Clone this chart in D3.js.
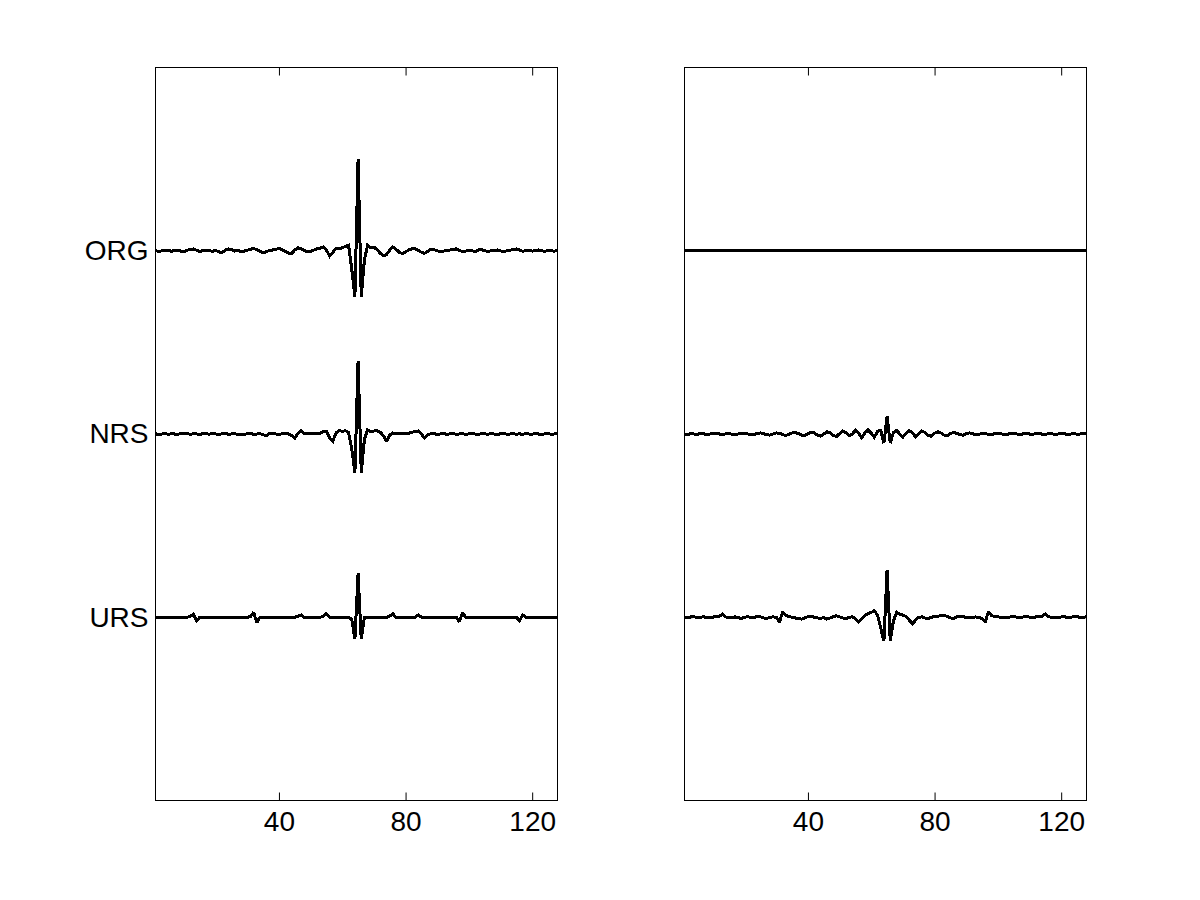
<!DOCTYPE html>
<html>
<head>
<meta charset="utf-8">
<script src="https://cdn.jsdelivr.net/npm/d3@7"></script>
<style>
  html, body { margin: 0; padding: 0; background: #fff; }
  svg { display: block; }
</style>
</head>
<body>
<svg id="chart" width="1200" height="900"></svg>
<script>
// ---- data ----
const xTicks = [40, 80, 120];
const yTickValues = [1, 2, 3];
const yTickLabels = ["URS", "NRS", "ORG"];
const traceNames = ["ORG", "NRS", "URS"];
const traceOffsets = [3, 2, 1];

// left panel
const orgL = [
  0.002,-0.006,0.000,0.004,0.002,-0.003,0.001,0.003,-0.002,-0.005,0.002,0.008,0.010,0.002,-0.004,0.001,
  0.004,0.000,-0.003,0.002,-0.006,-0.010,0.003,0.010,0.006,-0.002,0.001,-0.004,-0.002,0.003,0.008,0.012,
  0.006,-0.004,-0.010,-0.006,0.002,0.004,0.008,0.012,0.006,-0.004,-0.012,-0.016,0.004,0.016,0.010,0.002,
  -0.006,-0.004,0.004,0.010,0.014,0.020,0.004,-0.030,-0.010,0.012,0.010,0.016,0.024,0.030,-0.100,-0.250,
  0.500,-0.250,-0.050,0.030,0.016,0.020,0.006,-0.014,-0.028,-0.020,0.004,0.020,0.008,-0.008,-0.016,-0.006,
  0.004,0.010,0.012,0.002,-0.008,-0.014,-0.004,0.008,0.006,0.000,-0.004,-0.002,0.002,0.004,0.008,0.010,
  0.002,-0.004,-0.002,0.002,0.000,-0.004,0.004,0.006,0.000,-0.003,-0.001,0.002,0.004,-0.001,-0.004,0.000,
  0.003,0.006,0.010,0.004,-0.003,0.000,0.002,-0.002,0.001,0.004,0.000,-0.003,0.002,0.000,-0.002,0.002
];
const nrsL = [
  0.001,-0.002,0.000,0.002,-0.001,0.001,0.000,-0.002,0.002,0.000,0.003,-0.002,0.001,0.000,-0.002,0.002,
  0.001,-0.001,0.002,0.000,-0.002,0.001,0.003,-0.001,0.000,0.002,-0.003,0.000,-0.004,0.002,0.004,-0.002,
  0.000,0.002,-0.004,-0.010,0.002,0.004,0.000,-0.003,0.002,0.004,0.000,-0.008,-0.022,0.004,0.018,0.004,
  0.000,0.002,0.004,0.002,0.004,0.012,0.016,-0.020,-0.040,0.005,0.020,0.014,0.018,0.008,-0.080,-0.210,
  0.400,-0.210,-0.030,0.022,0.014,0.016,0.018,0.010,-0.010,-0.040,-0.005,0.006,0.002,0.004,0.000,0.002,
  0.004,0.010,0.012,0.016,0.000,-0.022,-0.004,0.002,0.002,-0.002,0.000,0.003,-0.002,0.001,0.002,-0.001,
  0.000,0.002,-0.002,0.001,0.002,0.000,-0.002,0.002,0.001,-0.001,0.002,0.000,-0.002,0.001,0.002,-0.001,
  0.000,0.002,-0.001,0.001,-0.002,0.002,0.000,-0.001,0.002,0.000,-0.002,0.001,0.002,-0.001,0.000,0.001
];
const ursL = [
  0,0,0,0,0,0,0,0,0,0,0,0.004,0.018,-0.020,0,0,
  0,0,0,0,0,0,0,0,0,0,0,0,0,0,0.004,0.027,
  -0.030,0,0,0,0,0,0,0,0,0,0,0,0,0.005,0.012,0,
  0,0,0,0,0,0.006,0.020,0,0,0,0,0,0,0,-0.010,-0.120,
  0.240,-0.120,0,0,0,0,0,0,0,0,0.006,0.018,0,0,0,0,
  0,0,0,0.013,0,0,0,0,0,0,0,0,0,0,0,0,
  -0.025,0.024,0,0,0,0,0,0,0,0,0,0,0,0,0,0,
  0,0,0,-0.018,0.012,0,0,0,0,0,0,0,0,0,0,0
];

// right panel
const orgR = [
  0,0,0,0,0,0,0,0,0,0,0,0,0,0,0,0,
  0,0,0,0,0,0,0,0,0,0,0,0,0,0,0,0,
  0,0,0,0,0,0,0,0,0,0,0,0,0,0,0,0,
  0,0,0,0,0,0,0,0,0,0,0,0,0,0,0,0,
  0,0,0,0,0,0,0,0,0,0,0,0,0,0,0,0,
  0,0,0,0,0,0,0,0,0,0,0,0,0,0,0,0,
  0,0,0,0,0,0,0,0,0,0,0,0,0,0,0,0,
  0,0,0,0,0,0,0,0,0,0,0,0,0,0,0,0
];
const nrsR = [
  0.000,-0.003,0.002,0.000,-0.002,0.003,0.001,-0.002,0.000,0.002,0.004,0.000,-0.003,0.001,0.003,-0.002,
  -0.004,0.000,0.003,0.005,0.000,-0.004,-0.002,0.003,0.006,0.002,-0.004,-0.006,0.000,0.006,0.004,-0.003,
  -0.008,-0.002,0.006,0.008,0.002,-0.006,-0.008,0.002,0.010,0.006,-0.006,-0.012,0.000,0.012,0.006,-0.008,
  -0.014,0.002,0.016,0.008,-0.010,0.000,0.020,0.004,-0.020,0.006,0.022,0.004,-0.018,0.016,0.020,-0.050,
  0.095,-0.050,0.008,0.020,0.000,-0.016,0.004,0.018,0.006,-0.016,0.000,0.016,0.008,-0.008,-0.012,0.004,
  0.012,0.006,-0.006,-0.010,0.002,0.008,0.004,-0.004,-0.006,0.002,0.006,0.002,-0.004,-0.002,0.004,0.003,
  -0.002,-0.004,0.002,0.005,0.001,-0.003,-0.002,0.003,0.004,0.000,-0.003,0.001,0.003,0.000,-0.002,0.002,
  0.003,-0.001,-0.002,0.002,0.001,-0.002,0.000,0.003,0.001,-0.002,0.000,0.002,-0.001,0.000,0.002,0.000
];
const ursR = [
  0.000,-0.004,0.002,0.003,-0.002,0.000,0.003,-0.002,-0.004,0.001,0.003,0.004,0.018,0.002,-0.004,-0.002,
  0.002,-0.003,-0.006,0.000,0.004,-0.002,0.000,0.003,0.002,-0.004,-0.006,0.000,0.002,0.000,-0.027,0.030,
  0.010,0.004,0.000,-0.004,-0.006,-0.010,-0.004,0.004,0.006,0.000,-0.004,-0.006,-0.002,-0.010,-0.004,0.004,
  0.008,0.002,-0.004,-0.006,-0.002,0.004,-0.010,-0.027,-0.006,0.010,0.020,0.026,0.036,0.010,-0.060,-0.130,
  0.260,-0.130,-0.020,0.027,0.016,0.012,0.004,-0.016,-0.036,-0.016,0.000,0.002,-0.004,-0.008,0.000,0.004,
  0.006,0.008,0.010,0.004,-0.004,-0.006,0.002,0.006,0.004,-0.002,-0.004,0.000,0.002,-0.002,-0.006,-0.027,
  0.030,0.010,0.004,0.002,0.000,-0.004,-0.002,0.002,0.004,0.000,-0.003,0.002,0.004,0.001,-0.002,0.002,
  0.004,0.006,0.018,0.004,-0.002,0.000,-0.004,0.002,0.003,-0.002,0.000,0.003,0.004,-0.002,0.000,0.002
];

const panels = [
  { x0: 155.5, series: [orgL, nrsL, ursL], showLabels: true },
  { x0: 684.5, series: [orgR, nrsR, ursR], showLabels: false }
];

// ---- drawing ----
const svg = d3.select("#chart");
const W = 402, yTop = 67.5, yBot = 800.5;
const fontFam = "'Liberation Sans', Arial, Helvetica, sans-serif";

panels.forEach(p => {
  const x = d3.scaleLinear().domain([1, 128]).range([p.x0, p.x0 + W]);
  const y = d3.scaleLinear().domain([0, 4]).range([yBot, yTop]);
  const g = svg.append("g");

  // traces
  const lineGen = d3.line().x(d => x(d[0])).y(d => y(d[1]));
  p.series.forEach((s, k) => {
    const off = traceOffsets[k];
    const pts = s.map((v, i) => [i + 1, off + v]);
    g.append("path")
      .datum(pts)
      .attr("fill", "none")
      .attr("stroke", "#000")
      .attr("stroke-width", 3)
      .attr("stroke-linejoin", "miter")
      .attr("stroke-miterlimit", 2)
      .attr("shape-rendering", "crispEdges")
      .attr("d", lineGen);
  });

  // axes with inward ticks
  const xb = g.append("g").attr("transform", `translate(0,${yBot})`)
    .call(d3.axisBottom(x).tickValues(xTicks).tickSize(-8).tickPadding(12).tickFormat(d3.format("d")));
  const xt = g.append("g").attr("transform", `translate(0,${yTop})`)
    .call(d3.axisTop(x).tickValues(xTicks).tickSize(-8).tickFormat(""));
  const yl = g.append("g").attr("transform", `translate(${p.x0},0)`)
    .call(d3.axisLeft(y).tickValues(yTickValues).tickSize(-8).tickPadding(7)
      .tickFormat((d, i) => p.showLabels ? yTickLabels[i] : ""));
  const yr = g.append("g").attr("transform", `translate(${p.x0 + W},0)`)
    .call(d3.axisRight(y).tickValues(yTickValues).tickSize(-8).tickFormat(""));

  [xb, xt, yl, yr].forEach(a => {
    a.selectAll(".domain").remove();
    a.selectAll(".tick line").attr("stroke", "#000").attr("stroke-width", 1);
    a.selectAll("text").attr("fill", "#000").style("font-family", fontFam).style("font-size", "28px");
  });
  xb.selectAll("text").attr("y", 11).attr("dy", "0.71em");
  yl.selectAll("text").attr("x", -7);

  // box
  g.append("rect")
    .attr("x", p.x0).attr("y", yTop)
    .attr("width", W).attr("height", yBot - yTop)
    .attr("fill", "none").attr("stroke", "#000").attr("stroke-width", 1);
});
</script>
</body>
</html>
